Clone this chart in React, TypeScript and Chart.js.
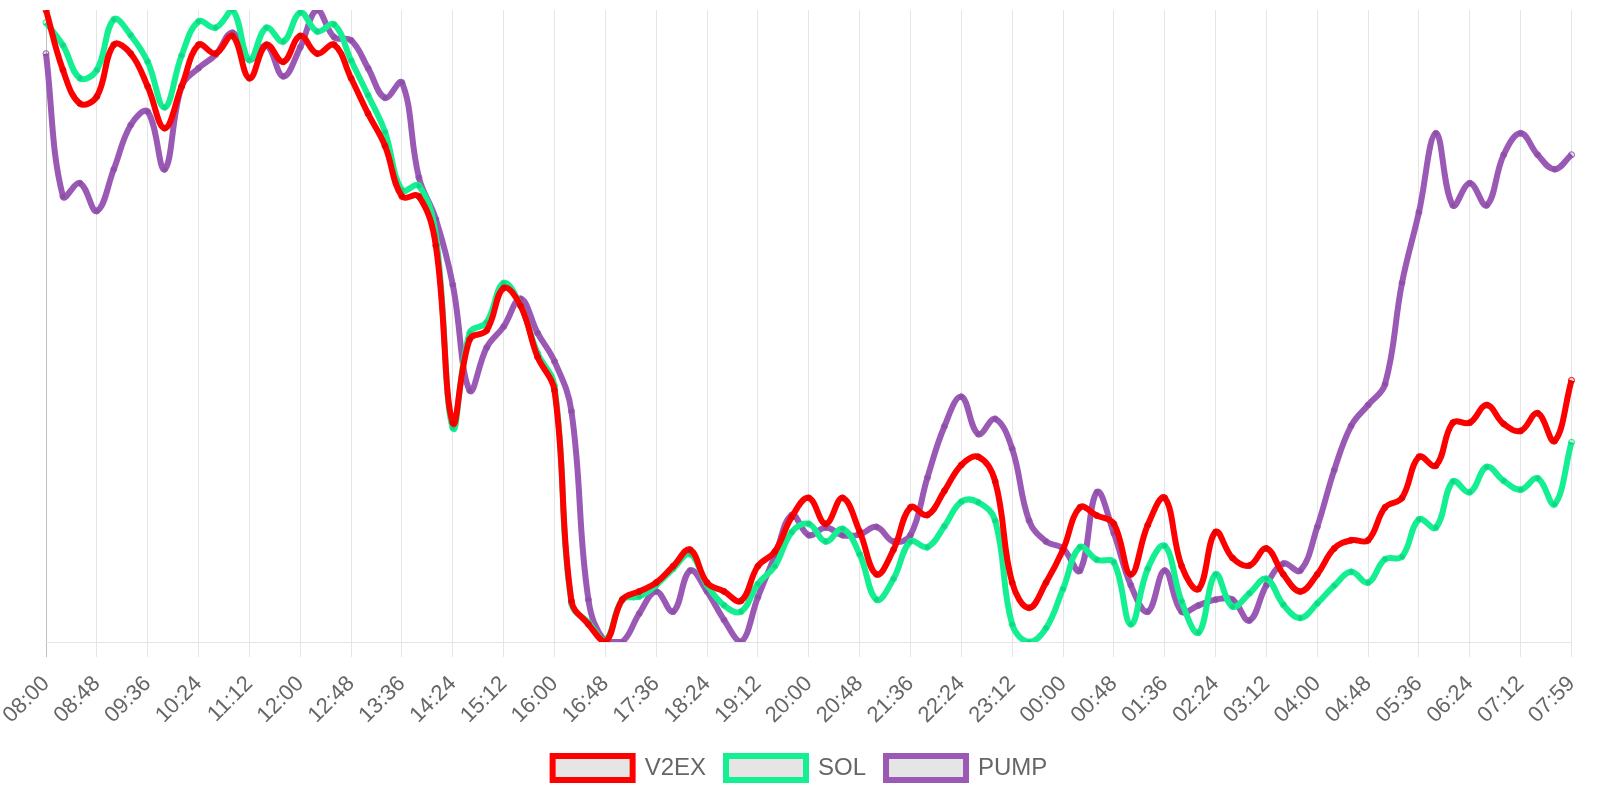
import React, { useEffect, useRef } from 'react';
import { Chart, registerables } from 'chart.js';

Chart.register(...registerables);

const timeLabels = [
  '08:00', '08:16', '08:32', '08:48', '09:04', '09:20', '09:36', '09:52', '10:08', '10:24',
  '10:40', '10:56', '11:12', '11:28', '11:44', '12:00', '12:16', '12:32', '12:48', '13:04',
  '13:20', '13:36', '13:52', '14:08', '14:24', '14:40', '14:56', '15:12', '15:28', '15:44',
  '16:00', '16:16', '16:32', '16:48', '17:04', '17:20', '17:36', '17:52', '18:08', '18:24',
  '18:40', '18:56', '19:12', '19:28', '19:44', '20:00', '20:16', '20:32', '20:48', '21:04',
  '21:20', '21:36', '21:52', '22:08', '22:24', '22:40', '22:56', '23:12', '23:28', '23:44',
  '00:00', '00:16', '00:32', '00:48', '01:04', '01:20', '01:36', '01:52', '02:08', '02:24',
  '02:40', '02:56', '03:12', '03:28', '03:44', '04:00', '04:16', '04:32', '04:48', '05:04',
  '05:20', '05:36', '05:52', '06:08', '06:24', '06:40', '06:56', '07:12', '07:28', '07:44',
  '07:59',
];

const v2exValues = [
  100, 90.5, 85.2, 86.3, 94.5, 93.1, 87.9, 81.3, 87.9, 94.5,
  93.1, 95.9, 89.2, 94.5, 91.8, 95.9, 93.1, 94.5, 89.2, 83.6,
  78.5, 70.5, 70.5, 62.7, 34.7, 47.9, 49.3, 56, 53.2, 45.1,
  39.8, 6.5, 2.8, 0, 6.7, 8, 9.4, 12, 14.6, 9.4,
  8, 6.5, 12, 14.3, 19.8, 22.8, 18.7, 22.8, 17.5, 10.7,
  14.6, 21.3, 20.1, 23.9, 28, 29.3, 25.4, 9.4, 5.4, 9.4,
  14.6, 21.3, 20, 18.7, 10.7, 18.5, 22.8, 12, 8.4, 17.4,
  13.3, 12.1, 14.8, 10.7, 8, 10.7, 14.8, 16.1, 16.1, 21.3,
  22.8, 29.3, 27.9, 34.7, 34.7, 37.5, 34.5, 33.4, 36.2, 31.8,
  41.4,
];

const solValues = [
  98, 94.4, 89.2, 90.5, 98.5, 96, 91.8, 84.6, 92.8, 98.2,
  97.2, 100, 92.1, 97.2, 95, 99.6, 96.6, 97.7, 92, 86.5,
  80.7, 71.5, 72.2, 64.3, 33.9, 48.9, 50.6, 56.8, 53.2, 45.7,
  40.5, 6.1, 3.1, 0.2, 6.7, 7.2, 9, 11.6, 13.9, 9,
  5.8, 4.8, 9.2, 12, 17.4, 18.7, 15.9, 17.9, 13.9, 6.7,
  10, 15.9, 15, 18.3, 22.2, 22.1, 19.2, 2.8, 0, 2.2,
  8.4, 15, 13, 12.6, 2.8, 11.6, 15.2, 6.4, 1.5, 10.7,
  5.6, 7.7, 10, 5.9, 3.8, 6.1, 8.9, 11.1, 9.4, 13.1,
  13.5, 19.4, 18.1, 25.4, 23.7, 27.7, 25.5, 24.1, 25.9, 21.8,
  31.6,
];

const pumpValues = [
  93.1, 70.5, 72.6, 68.2, 74.8, 81.8, 83.9, 74.8, 87.9, 90.8,
  92.9, 96.4, 92.1, 94.4, 89.5, 94.1, 100, 95.7, 95.2, 90.8,
  86.1, 88.5, 73.5, 66.9, 56.5, 39.8, 46.6, 49.9, 54.3, 48.9,
  44.4, 36.5, 6.7, 0, 0, 4.5, 8, 4.8, 11.3, 8,
  3.5, 0, 7.1, 13.6, 20.1, 16.9, 18.1, 16.9, 17, 18.2,
  15.9, 16.9, 26, 34.1, 38.8, 32.9, 35.3, 30.6, 19.2, 15.9,
  14.8, 11.3, 23.7, 17.2, 9, 4.8, 11.3, 4.8, 5.8, 6.7,
  6.7, 3.4, 9, 12.4, 11.3, 18.2, 27.2, 34.2, 37.5, 40.8,
  56.8, 68, 80.5, 69.1, 72.6, 69.1, 77.1, 80.5, 77.1, 74.8,
  77.1,
];

const seriesNames = ['V2EX', 'SOL', 'PUMP'];
const seriesColors = ['#ff0000', '#14ef92', '#9b59b6'];
const seriesValues = [v2exValues, solValues, pumpValues];

const FONT = "'Liberation Sans', Arial, Helvetica, sans-serif";

function gridColor(ctx: any) {
  if (ctx.index === 0) return 'rgba(0,0,0,0.25)';
  return ctx.index % 3 === 0 ? 'rgba(0,0,0,0.1)' : 'rgba(0,0,0,0)';
}

export default function App() {
  const canvasRef = useRef<HTMLCanvasElement>(null);

  useEffect(() => {
    document.body.style.margin = '0';
    const canvas = canvasRef.current;
    if (!canvas) return;
    Chart.defaults.font.family = FONT;
    const chart = new Chart(canvas, {
      type: 'line',
      data: {
        labels: timeLabels,
        datasets: seriesNames.map((name, i) => ({
          label: name,
          data: seriesValues[i],
          borderColor: seriesColors[i],
          backgroundColor: 'rgba(0,0,0,0.1)',
          pointBackgroundColor: 'rgba(0,0,0,0.1)',
          pointBorderColor: seriesColors[i],
          borderWidth: 6,
          pointRadius: 3,
          pointBorderWidth: 1,
          tension: 0.4,
          fill: false,
        })),
      },
      options: {
        animation: false,
        responsive: true,
        maintainAspectRatio: false,
        layout: {
          autoPadding: false,
          padding: { left: 0, right: 0, top: 10, bottom: 10 },
        },
        plugins: {
          legend: {
            position: 'bottom',
            labels: {
              boxWidth: 80,
              boxHeight: 24,
              padding: 20,
              color: '#666',
              font: { size: 24, family: FONT },
            },
          },
          tooltip: { enabled: false },
        },
        scales: {
          x: {
            afterFit: (scale: any) => {
              scale.paddingLeft = 46;
              scale.paddingRight = 28.5;
              scale.height = 94;
            },
            grid: {
              color: gridColor,
              tickColor: gridColor,
              tickLength: 15,
              drawOnChartArea: true,
            },
            border: { color: 'rgba(0,0,0,0.1)' },
            ticks: {
              autoSkip: false,
              minRotation: 45,
              maxRotation: 45,
              padding: 14,
              color: '#666',
              font: { size: 22, family: FONT },
              callback: (_v: any, index: number) => (index % 3 === 0 ? timeLabels[index] : ''),
            },
          },
          y: {
            display: false,
            min: 0,
            max: 100,
          },
        },
      },
    });
    return () => chart.destroy();
  }, []);

  return (
    <div style={{ position: 'relative', width: '1600px', height: '800px' }}>
      <canvas ref={canvasRef} />
    </div>
  );
}
